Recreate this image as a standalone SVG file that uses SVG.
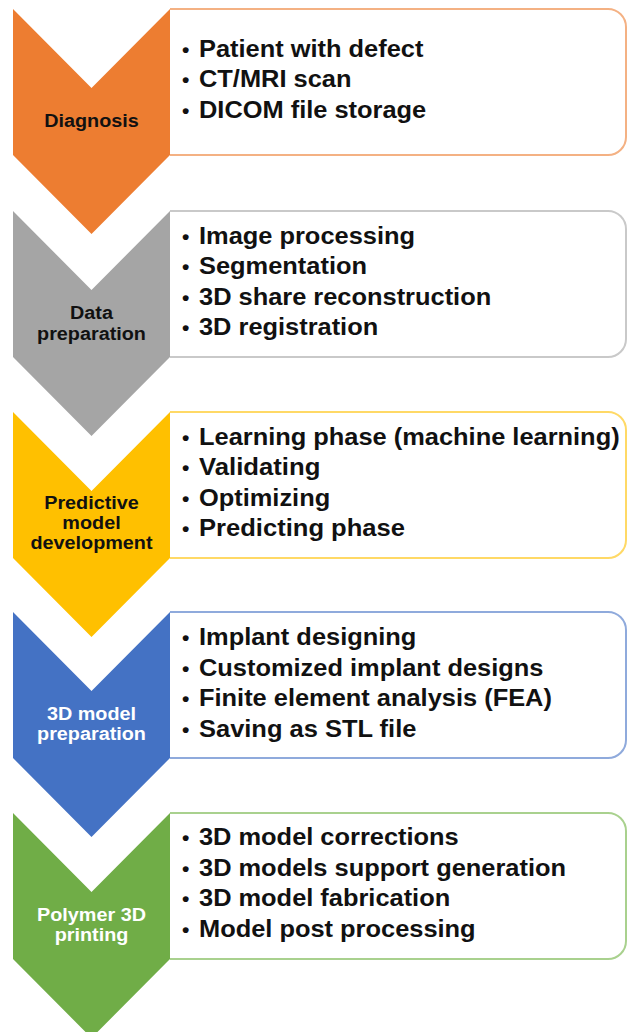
<svg xmlns="http://www.w3.org/2000/svg" width="627" height="1032" viewBox="0 0 627 1032">
  <style>
    .box { fill: #ffffff; stroke-width: 2; }
    .item { font-family: "Liberation Sans", Arial, sans-serif; font-weight: bold; font-size: 23px; fill: #111111; }
    .bullet { font-family: "Liberation Sans", Arial, sans-serif; font-weight: bold; font-size: 21px; fill: #111111; }
    .label { font-family: "Liberation Sans", Arial, sans-serif; font-weight: bold; font-size: 18px; text-anchor: middle; }
    .dark { fill: #111111; }
    .light { fill: #ffffff; }
  </style>

  <!-- Step 1: Diagnosis -->
  <g id="diagnosis">
    <path class="box" stroke="#F4B183" d="M170,9 H608 A18,18 0 0 1 626,27 V137 A18,18 0 0 1 608,155 H170"/>
    <polygon fill="#ED7D31" points="13,9 91.5,88 170,9 170,155 91.5,234 13,155"/>
    <text class="label dark" x="91.5" y="126.5" textLength="94.6" lengthAdjust="spacingAndGlyphs">Diagnosis</text>
    <text class="bullet" x="182" y="56.5">•</text>
    <text class="item" x="199" y="56.5" textLength="224.4" lengthAdjust="spacingAndGlyphs">Patient with defect</text>
    <text class="bullet" x="182" y="87">•</text>
    <text class="item" x="199" y="87" textLength="152.4" lengthAdjust="spacingAndGlyphs">CT/MRI scan</text>
    <text class="bullet" x="182" y="117.5">•</text>
    <text class="item" x="199" y="117.5" textLength="227.2" lengthAdjust="spacingAndGlyphs">DICOM file storage</text>
  </g>

  <!-- Step 2: Data preparation -->
  <g id="data-preparation">
    <path class="box" stroke="#C9C9C9" d="M170,211 H608 A18,18 0 0 1 626,229 V339 A18,18 0 0 1 608,357 H170"/>
    <polygon fill="#A5A5A5" points="13,211 91.5,290 170,211 170,357 91.5,436 13,357"/>
    <text class="label dark" x="91.5" y="318.5" textLength="42.9" lengthAdjust="spacingAndGlyphs">Data</text>
    <text class="label dark" x="91.5" y="339.5" textLength="108.9" lengthAdjust="spacingAndGlyphs">preparation</text>
    <text class="bullet" x="182" y="243.5">•</text>
    <text class="item" x="199" y="243.5" textLength="216" lengthAdjust="spacingAndGlyphs">Image processing</text>
    <text class="bullet" x="182" y="274">•</text>
    <text class="item" x="199" y="274" textLength="168" lengthAdjust="spacingAndGlyphs">Segmentation</text>
    <text class="bullet" x="182" y="304.5">•</text>
    <text class="item" x="199" y="304.5" textLength="292.2" lengthAdjust="spacingAndGlyphs">3D share reconstruction</text>
    <text class="bullet" x="182" y="335">•</text>
    <text class="item" x="199" y="335" textLength="179.2" lengthAdjust="spacingAndGlyphs">3D registration</text>
  </g>

  <!-- Step 3: Predictive model development -->
  <g id="predictive-model">
    <path class="box" stroke="#FFD966" d="M170,412 H608 A18,18 0 0 1 626,430 V540 A18,18 0 0 1 608,558 H170"/>
    <polygon fill="#FFC000" points="13,412 91.5,491 170,412 170,558 91.5,637 13,558"/>
    <text class="label dark" x="91.5" y="508.5" textLength="94.6" lengthAdjust="spacingAndGlyphs">Predictive</text>
    <text class="label dark" x="91.5" y="528.5" textLength="58.3" lengthAdjust="spacingAndGlyphs">model</text>
    <text class="label dark" x="91.5" y="548.5" textLength="122.1" lengthAdjust="spacingAndGlyphs">development</text>
    <text class="bullet" x="182" y="444.5">•</text>
    <text class="item" x="199" y="444.5" textLength="420.6" lengthAdjust="spacingAndGlyphs">Learning phase (machine learning)</text>
    <text class="bullet" x="182" y="475">•</text>
    <text class="item" x="199" y="475" textLength="121.4" lengthAdjust="spacingAndGlyphs">Validating</text>
    <text class="bullet" x="182" y="505.5">•</text>
    <text class="item" x="199" y="505.5" textLength="131.2" lengthAdjust="spacingAndGlyphs">Optimizing</text>
    <text class="bullet" x="182" y="536">•</text>
    <text class="item" x="199" y="536" textLength="206" lengthAdjust="spacingAndGlyphs">Predicting phase</text>
  </g>

  <!-- Step 4: 3D model preparation -->
  <g id="model-preparation">
    <path class="box" stroke="#8FAADC" d="M170,612 H608 A18,18 0 0 1 626,630 V740 A18,18 0 0 1 608,758 H170"/>
    <polygon fill="#4472C4" points="13,612 91.5,691 170,612 170,758 91.5,837 13,758"/>
    <text class="label light" x="91.5" y="719.5" textLength="89.1" lengthAdjust="spacingAndGlyphs">3D model</text>
    <text class="label light" x="91.5" y="739.5" textLength="108.9" lengthAdjust="spacingAndGlyphs">preparation</text>
    <text class="bullet" x="182" y="645">•</text>
    <text class="item" x="199" y="645" textLength="217.3" lengthAdjust="spacingAndGlyphs">Implant designing</text>
    <text class="bullet" x="182" y="675.5">•</text>
    <text class="item" x="199" y="675.5" textLength="344.4" lengthAdjust="spacingAndGlyphs">Customized implant designs</text>
    <text class="bullet" x="182" y="706">•</text>
    <text class="item" x="199" y="706" textLength="352.9" lengthAdjust="spacingAndGlyphs">Finite element analysis (FEA)</text>
    <text class="bullet" x="182" y="736.5">•</text>
    <text class="item" x="199" y="736.5" textLength="217.4" lengthAdjust="spacingAndGlyphs">Saving as STL file</text>
  </g>

  <!-- Step 5: Polymer 3D printing -->
  <g id="polymer-printing">
    <path class="box" stroke="#A9D18E" d="M170,813 H608 A18,18 0 0 1 626,831 V941 A18,18 0 0 1 608,959 H170"/>
    <polygon fill="#70AD47" points="13,813 91.5,892 170,813 170,959 91.5,1038 13,959"/>
    <text class="label light" x="91.5" y="920.5" textLength="108.9" lengthAdjust="spacingAndGlyphs">Polymer 3D</text>
    <text class="label light" x="91.5" y="940.5" textLength="73.7" lengthAdjust="spacingAndGlyphs">printing</text>
    <text class="bullet" x="182" y="845">•</text>
    <text class="item" x="199" y="845" textLength="259.7" lengthAdjust="spacingAndGlyphs">3D model corrections</text>
    <text class="bullet" x="182" y="875.5">•</text>
    <text class="item" x="199" y="875.5" textLength="367" lengthAdjust="spacingAndGlyphs">3D models support generation</text>
    <text class="bullet" x="182" y="906">•</text>
    <text class="item" x="199" y="906" textLength="251.2" lengthAdjust="spacingAndGlyphs">3D model fabrication</text>
    <text class="bullet" x="182" y="936.5">•</text>
    <text class="item" x="199" y="936.5" textLength="276.6" lengthAdjust="spacingAndGlyphs">Model post processing</text>
  </g>
</svg>
